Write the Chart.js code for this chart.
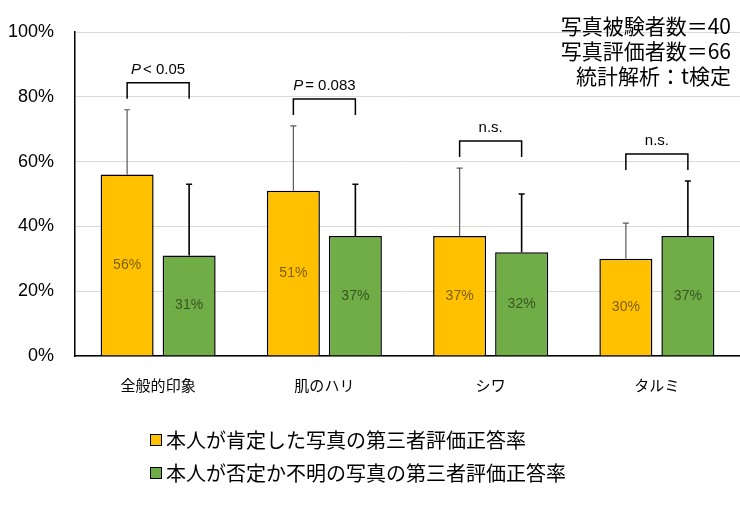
<!DOCTYPE html>
<html>
<head>
<meta charset="utf-8">
<script src="https://cdn.jsdelivr.net/npm/chart.js@4.4.1/dist/chart.umd.min.js"></script>
<style>
  html, body { margin: 0; padding: 0; background: #fff; }
  #wrap { width: 740px; height: 511px; }
</style>
</head>
<body>
<div id="wrap"><canvas id="grafica" width="740" height="511"></canvas></div>
<script>
const categories = ['全般的印象', '肌のハリ', 'シワ', 'タルミ'];
const seriesNames = ['本人が肯定した写真の第三者評価正答率', '本人が否定か不明の写真の第三者評価正答率'];
const positiveRate = [56, 51, 37, 30];
const positiveSd = [20, 20, 21, 11];
const otherRate = [31, 37, 32, 37];
const otherSd = [22, 16, 18, 17];
const pMarks = [['P', '< 0.05'], ['P', '= 0.083'], ['', 'n.s.'], ['', 'n.s.']];
const notes = ['写真被験者数＝40', '写真評価者数＝66', '統計解析：t検定'];
const yTicks = [0, 20, 40, 60, 80, 100];

const JP = '"Noto Sans CJK JP", sans-serif';
const LAT = '"Liberation Sans", Arial, sans-serif';

const extras = {
    id: 'extras',
    afterDatasetsDraw(chart) {
        const ctx = chart.ctx;
        const y = chart.scales.y;
        const sds = [positiveSd, otherSd];
        const errColor = ['#595959', '#000'];
        const labelColor = ['#7f6000', '#375623'];

        // error bars (upper only)
        chart.data.datasets.forEach((ds, i) => {
            const meta = chart.getDatasetMeta(i);
            meta.data.forEach((bar, j) => {
                const top = y.getPixelForValue(ds.data[j] + sds[i][j]);
                ctx.save();
                ctx.strokeStyle = errColor[i];
                ctx.lineWidth = i === 0 ? 1.2 : 1.6;
                ctx.beginPath();
                ctx.moveTo(bar.x, bar.y);
                ctx.lineTo(bar.x, top);
                ctx.moveTo(bar.x - 3, top);
                ctx.lineTo(bar.x + 3, top);
                ctx.stroke();
                ctx.restore();

                // value label in the middle of the bar
                ctx.save();
                ctx.fillStyle = labelColor[i];
                ctx.font = '14px ' + LAT;
                ctx.textAlign = 'center';
                ctx.textBaseline = 'middle';
                ctx.fillText(ds.data[j] + '%', bar.x, (bar.y + bar.base) / 2);
                ctx.restore();
            });
        });

        // significance brackets
        const m0 = chart.getDatasetMeta(0).data;
        const m1 = chart.getDatasetMeta(1).data;
        categories.forEach((c, j) => {
            const topVal = Math.max(positiveRate[j] + positiveSd[j], otherRate[j] + otherSd[j]);
            const legY = y.getPixelForValue(topVal) - 11;
            const brY = legY - 16;
            const x1 = m0[j].x, x2 = m1[j].x;
            ctx.save();
            ctx.strokeStyle = '#000';
            ctx.lineWidth = 1.5;
            ctx.beginPath();
            ctx.moveTo(x1, legY);
            ctx.lineTo(x1, brY);
            ctx.lineTo(x2, brY);
            ctx.lineTo(x2, legY);
            ctx.stroke();

            const [it, rest] = pMarks[j];
            ctx.fillStyle = '#000';
            ctx.textBaseline = 'middle';
            ctx.font = 'italic 15px ' + LAT;
            const w1 = it ? ctx.measureText(it).width + 2 : 0;
            ctx.font = '15px ' + LAT;
            const w2 = ctx.measureText(rest).width;
            let sx = (x1 + x2) / 2 - (w1 + w2) / 2;
            const ty = brY - 13;
            if (it) {
                ctx.font = 'italic 15px ' + LAT;
                ctx.textAlign = 'left';
                ctx.fillText(it, sx, ty);
                sx += w1;
            }
            ctx.font = '15px ' + LAT;
            ctx.textAlign = 'left';
            ctx.fillText(rest, sx, ty);
            ctx.restore();
        });

        // notes at top right
        ctx.save();
        ctx.fillStyle = '#000';
        ctx.font = '21px ' + JP;
        ctx.textAlign = 'right';
        ctx.textBaseline = 'middle';
        notes.forEach((t, k) => ctx.fillText(t, 731, 26 + k * 25));
        ctx.restore();

        // legend
        ctx.save();
        chart.data.datasets.forEach((ds, i) => {
            const cy = 440 + i * 33;
            ctx.fillStyle = ds.backgroundColor;
            ctx.strokeStyle = '#000';
            ctx.lineWidth = 1;
            ctx.fillRect(150, cy - 6, 12, 12);
            ctx.strokeRect(150.5, cy - 5.5, 11, 11);
            ctx.fillStyle = '#000';
            ctx.font = '20px ' + JP;
            ctx.textAlign = 'left';
            ctx.textBaseline = 'middle';
            ctx.fillText(ds.label, 166, cy);
        });
        ctx.restore();
    }
};

new Chart(document.getElementById('grafica').getContext('2d'), {
    type: 'bar',
    data: {
        labels: categories,
        datasets: [
            {
                label: seriesNames[0],
                data: positiveRate,
                backgroundColor: '#ffc000',
                borderColor: '#000',
                borderWidth: 1.5,
                categoryPercentage: 0.746,
                barPercentage: 0.855
            },
            {
                label: seriesNames[1],
                data: otherRate,
                backgroundColor: '#70ad47',
                borderColor: '#000',
                borderWidth: 1.5,
                categoryPercentage: 0.746,
                barPercentage: 0.855
            }
        ]
    },
    options: {
        responsive: false,
        animation: false,
        layout: { padding: { top: 32, right: 0, left: 0, bottom: 0 } },
        plugins: {
            legend: { display: false },
            tooltip: { enabled: false }
        },
        scales: {
            x: {
                grid: { display: false, drawTicks: false },
                border: { color: '#000', width: 1.5 },
                ticks: { color: '#000', font: { family: JP, size: 15 }, padding: 20 },
                afterFit(s) { s.height = 155; }
            },
            y: {
                min: 0,
                max: 100,
                afterBuildTicks(s) { s.ticks = yTicks.map(v => ({ value: v })); },
                grid: { color: '#d9d9d9', drawTicks: false, lineWidth: 1 },
                border: { color: '#000', width: 1.5 },
                ticks: {
                    color: '#000',
                    font: { family: LAT, size: 18 },
                    padding: 21,
                    callback: v => v + '%'
                },
                afterFit(s) { s.width = 75; }
            }
        }
    },
    plugins: [extras]
});
</script>
</body>
</html>
